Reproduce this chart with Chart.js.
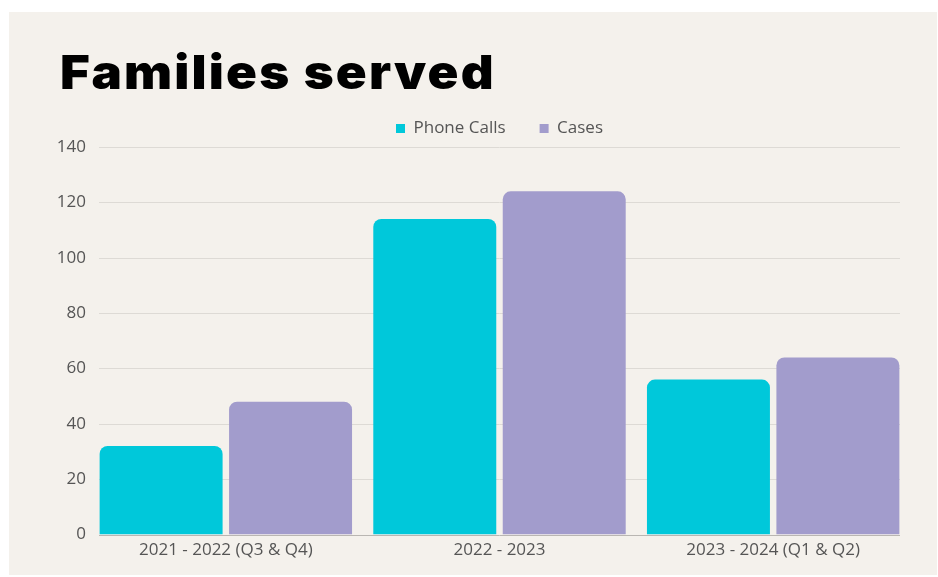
<!DOCTYPE html>
<html>
<head>
<meta charset="utf-8">
<script src="https://cdn.jsdelivr.net/npm/chart.js@4"></script>
<style>
  html, body { margin: 0; padding: 0; background: #ffffff; }
  #card {
    position: absolute; left: 9px; top: 12px;
    width: 928px; height: 563px;
    background: #f4f1ec;
  }
  #card h1 {
    position: absolute; left: 51px; top: 36px; margin: 0;
    font-family: Inter, sans-serif; font-weight: 900; font-size: 47px;
    line-height: 1; color: #000; letter-spacing: 2px;
    transform: scaleX(1.085); transform-origin: left top;
  }
  #chartBox { position: absolute; left: 0; top: 66px; width: 928px; height: 497px; }
</style>
</head>
<body>
<div id="card">
  <h1>Families served</h1>
  <div id="chartBox"><canvas id="myChart"></canvas></div>
</div>
<script>
const ctx = document.getElementById('myChart');

// categories and values
var periods = ["2021 - 2022 (Q3 & Q4)", "2022 - 2023", "2023 - 2024 (Q1 & Q2)"]
var phoneCalls = [32, 114, 56]
var cases = [48, 124, 64]
var yTicks = [0, 20, 40, 60, 80, 100, 120, 140]

// grid lines drawn a little inside the plot area, baseline darker
const insetGrid = {
  id: 'insetGrid',
  beforeDatasetsDraw(chart) {
    let c = chart.ctx
    let area = chart.chartArea
    let y = chart.scales.y
    c.save()
    for (var i = 0; i < yTicks.length; i++) {
      let py = Math.round(y.getPixelForValue(yTicks[i])) + 0.5
      c.strokeStyle = yTicks[i] === 0 ? "#b9b6b2" : "#dddad5"
      c.lineWidth = 1
      c.beginPath()
      c.moveTo(area.left + 10, py)
      c.lineTo(area.right - 10, py)
      c.stroke()
    }
    c.restore()
  }
}

let tickFont = { family: "'Open Sans'", size: 17 }

new Chart(ctx, {
  type: 'bar',
  data: {
    labels: periods,
    datasets: [{
      label: "Phone Calls",
      data: phoneCalls,
      backgroundColor: "#00c8da",
      borderRadius: 8,
      borderSkipped: 'bottom',
      categoryPercentage: 0.946,
      barPercentage: 0.95
    }, {
      label: "Cases",
      data: cases,
      backgroundColor: "#a29ccc",
      borderRadius: 8,
      borderSkipped: 'bottom',
      categoryPercentage: 0.946,
      barPercentage: 0.95
    }]
  },
  options: {
    responsive: true,
    maintainAspectRatio: false,
    animation: false,
    layout: { padding: { left: 0, right: 27, top: 8, bottom: 10 } },
    plugins: {
      legend: {
        position: 'top',
        fullSize: false,
        labels: {
          boxWidth: 9,
          boxHeight: 9,
          padding: 34,
          color: "#555",
          font: tickFont
        }
      },
      tooltip: { enabled: false }
    },
    scales: {
      x: {
        grid: { display: false, drawTicks: false },
        border: { display: false },
        ticks: {
          color: "#555",
          padding: 5,
          font: tickFont
        }
      },
      y: {
        min: 0,
        max: 140,
        afterFit: function(scale) { scale.width = 80 },
        afterBuildTicks: function(scale) { scale.ticks = yTicks.map(v => ({ value: v })) },
        grid: { display: false, drawTicks: false },
        border: { display: false },
        ticks: {
          color: "#555",
          padding: 3,
          font: tickFont
        }
      }
    }
  },
  plugins: [insetGrid]
});
</script>
</body>
</html>
